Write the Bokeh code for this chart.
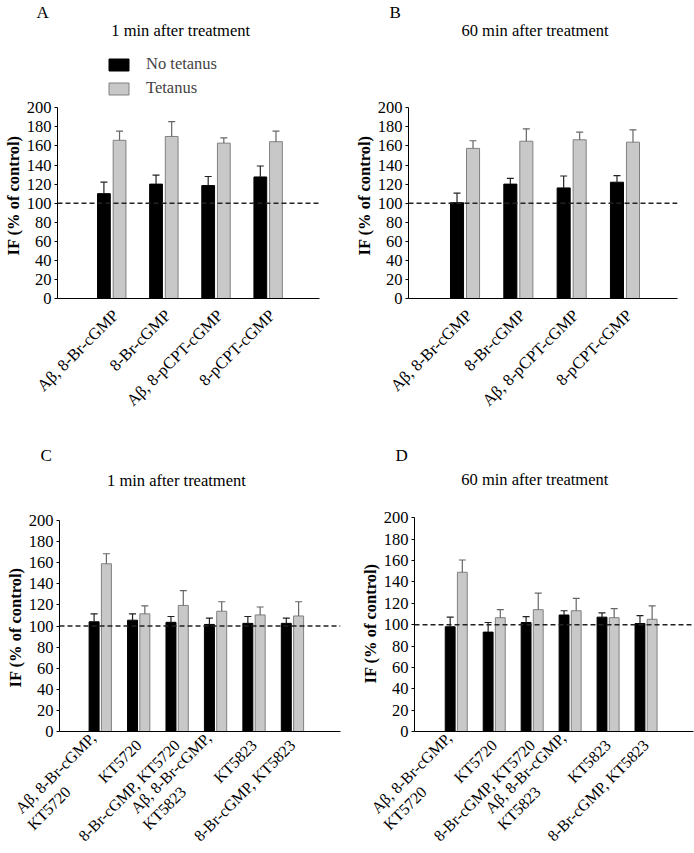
import numpy as np
from math import pi
from bokeh.plotting import figure
from bokeh.models import (ColumnDataSource, Range1d, FixedTicker, Span, Whisker,
                          TeeHead, Legend, LegendItem, Label, Title)
from bokeh.layouts import row, column
from bokeh.embed import file_html
from bokeh.resources import INLINE

# ---------------- data ----------------
labels_ab = ["Aβ, 8-Br-cGMP", "8-Br-cGMP", "Aβ, 8-pCPT-cGMP", "8-pCPT-cGMP"]
PAD = "\u00a0" * 14
labels_cd = ["Aβ, 8-Br-cGMP,\nKT5720" + PAD, "KT5720", "8-Br-cGMP, KT5720",
             "Aβ, 8-Br-cGMP,\nKT5823" + PAD, "KT5823", "8-Br-cGMP, KT5823"]
y_ticks = [0, 20, 40, 60, 80, 100, 120, 140, 160, 180, 200]
series_names = ["No tetanus", "Tetanus"]

a_no = [110, 120, 118.5, 127.5]
a_no_sem = [12, 9.5, 9.5, 11.5]
a_tet = [166, 170, 163, 164.5]
a_tet_sem = [9.5, 15.5, 5.5, 11]

b_no = [100.5, 120, 116, 122]
b_no_sem = [10, 6, 12.5, 7]
b_tet = [157.5, 165, 166.5, 164]
b_tet_sem = [8, 13, 8, 13]

c_no = [104, 105.5, 103.5, 101.5, 102.5, 102.5]
c_no_sem = [7.5, 6, 5.5, 6, 6.5, 5]
c_tet = [159, 111.5, 119.5, 114, 110.5, 109.5]
c_tet_sem = [9.5, 7.5, 14, 9, 7.5, 13.5]

d_no = [98, 93, 102, 109, 107, 101]
d_no_sem = [9, 9, 5.5, 4, 4, 7.5]
d_tet = [149, 106.5, 114, 113, 106.5, 105]
d_tet_sem = [11.5, 7.5, 15.5, 11.5, 8.5, 12.5]

baseline = 100
y_axis_max = 200

FONT = "Liberation Serif"
FS = "16.5px"
GRAY = "#c8c8c8"
GRAY_LINE = "#808080"


def panel(letter, title, labels, no, no_sem, tet, tet_sem, w, h, borders, xr, ytop,
          off, bw, letter_off, letter_standoff, title_xy, ylab_off, xlab_standoff,
          xlab_size=FS, label_shift=0.0, legend=False):
    n = len(labels)
    x = np.arange(n)
    src = ColumnDataSource(dict(
        x_no=x - off, x_tet=x + off,
        no=no, tet=tet,
        no_hi=np.add(no, no_sem), tet_hi=np.add(tet, tet_sem)))
    bl, br, bt, bb = borders
    p = figure(width=w, height=h, x_range=Range1d(*xr), y_range=Range1d(0, ytop),
               output_backend="svg", toolbar_location=None, title=None,
               min_border_left=bl, min_border_right=br, min_border_top=bt,
               min_border_bottom=bb)
    p.xgrid.visible = False
    p.ygrid.visible = False
    p.outline_line_color = None
    p.background_fill_color = "white"
    p.border_fill_color = "white"

    r_no = p.vbar(x="x_no", top="no", bottom=0, width=bw, source=src,
                  fill_color="black", line_color="black", line_width=1)
    r_tet = p.vbar(x="x_tet", top="tet", bottom=0, width=bw, source=src,
                   fill_color=GRAY, line_color=GRAY_LINE, line_width=1)
    p.add_layout(Whisker(base="x_no", lower="no", upper="no_hi", source=src,
                         line_color="#222222", line_width=1.2, lower_head=None,
                         upper_head=TeeHead(size=7, line_color="#222222", line_width=1.2),
                         level="annotation"))
    p.add_layout(Whisker(base="x_tet", lower="tet", upper="tet_hi", source=src,
                         line_color="#666666", line_width=1.2, lower_head=None,
                         upper_head=TeeHead(size=7, line_color="#666666", line_width=1.2),
                         level="annotation"))
    p.add_layout(Span(location=baseline, dimension="width", line_color="#222222",
                      line_width=1.5, line_dash="5 3"))

    ya = p.yaxis[0]
    ya.ticker = FixedTicker(ticks=y_ticks)
    ya.bounds = (0, y_axis_max)
    ya.minor_tick_line_color = None
    ya.major_tick_out = 3
    ya.major_tick_in = 0
    ya.axis_line_color = "black"
    ya.major_tick_line_color = "black"
    ya.major_label_text_font = FONT
    ya.major_label_text_font_size = FS
    ya.major_label_text_color = "black"
    ya.major_label_standoff = 3

    p.add_layout(Title(text="IF (% of control)", align="left", offset=ylab_off,
                       standoff=2, text_font=FONT, text_font_size=FS,
                       text_font_style="bold", text_color="black"), "left")

    xa = p.xaxis[0]
    ticks = [float(i) + label_shift for i in range(n)]
    xa.ticker = FixedTicker(ticks=ticks)
    xa.major_label_overrides = {t: lab for t, lab in zip(ticks, labels)}
    xa.minor_tick_line_color = None
    xa.major_tick_line_color = None
    xa.major_tick_out = 0
    xa.major_tick_in = 0
    xa.axis_line_color = "black"
    xa.major_label_orientation = pi / 4
    xa.major_label_text_font = FONT
    xa.major_label_text_font_size = xlab_size
    xa.major_label_text_color = "black"
    xa.major_label_standoff = xlab_standoff

    if legend:
        lg = Legend(items=[LegendItem(label=series_names[0], renderers=[r_no]),
                           LegendItem(label=series_names[1], renderers=[r_tet])],
                    location=(49, 200), orientation="vertical",
                    glyph_width=25, glyph_height=15, label_height=18,
                    label_standoff=15, spacing=4, padding=0, margin=0,
                    label_text_font=FONT, label_text_font_size=FS,
                    border_line_color=None, background_fill_alpha=0)
        p.add_layout(lg, "center")

    p.add_layout(Label(x=title_xy[0], y=title_xy[1], text=title, text_align="center",
                       text_baseline="alphabetic", text_font=FONT,
                       text_font_size=FS, text_color="black"))
    p.add_layout(Title(text=letter, align="left", offset=letter_off,
                       standoff=letter_standoff, text_font=FONT,
                       text_font_size="17px", text_font_style="normal",
                       text_color="black"), "above")
    return p


pA = panel("A", "1 min after treatment", labels_ab, a_no, a_no_sem, a_tet, a_tet_sem,
           347, 420, (51, 28, 19, 122), (-1.04, 3.985), 290.6, 0.15, 0.245,
           -21, 0, (1.323, 281), 43, 14, label_shift=0.075, legend=True)
pB = panel("B", "60 min after treatment", labels_ab, b_no, b_no_sem, b_tet, b_tet_sem,
           347, 420, (61, 17, 19, 122), (-1.06, 3.985), 290.6, 0.15, 0.245,
           -19, 0, (1.313, 281), 43, 14, label_shift=0.075)
pC = panel("C", "1 min after treatment", labels_cd, c_no, c_no_sem, c_tet, c_tet_sem,
           347, 433, (59, 7, 48, 122), (-1.06, 6.25), 249.3, 0.16, 0.26,
           -19, 8, (1.982, 237.5), 44, 11, xlab_size="16px")
pD = panel("D", "60 min after treatment", labels_cd, d_no, d_no_sem, d_tet, d_tet_sem,
           347, 433, (67, 1, 48, 122), (-1.10, 6.25), 246.1, 0.16, 0.26,
           -19, 8, (2.07, 235.9), 48, 11, xlab_size="16px")

layout = column(row(pA, pB), row(pC, pD))
open("out.html", "w").write(file_html(layout, INLINE))
